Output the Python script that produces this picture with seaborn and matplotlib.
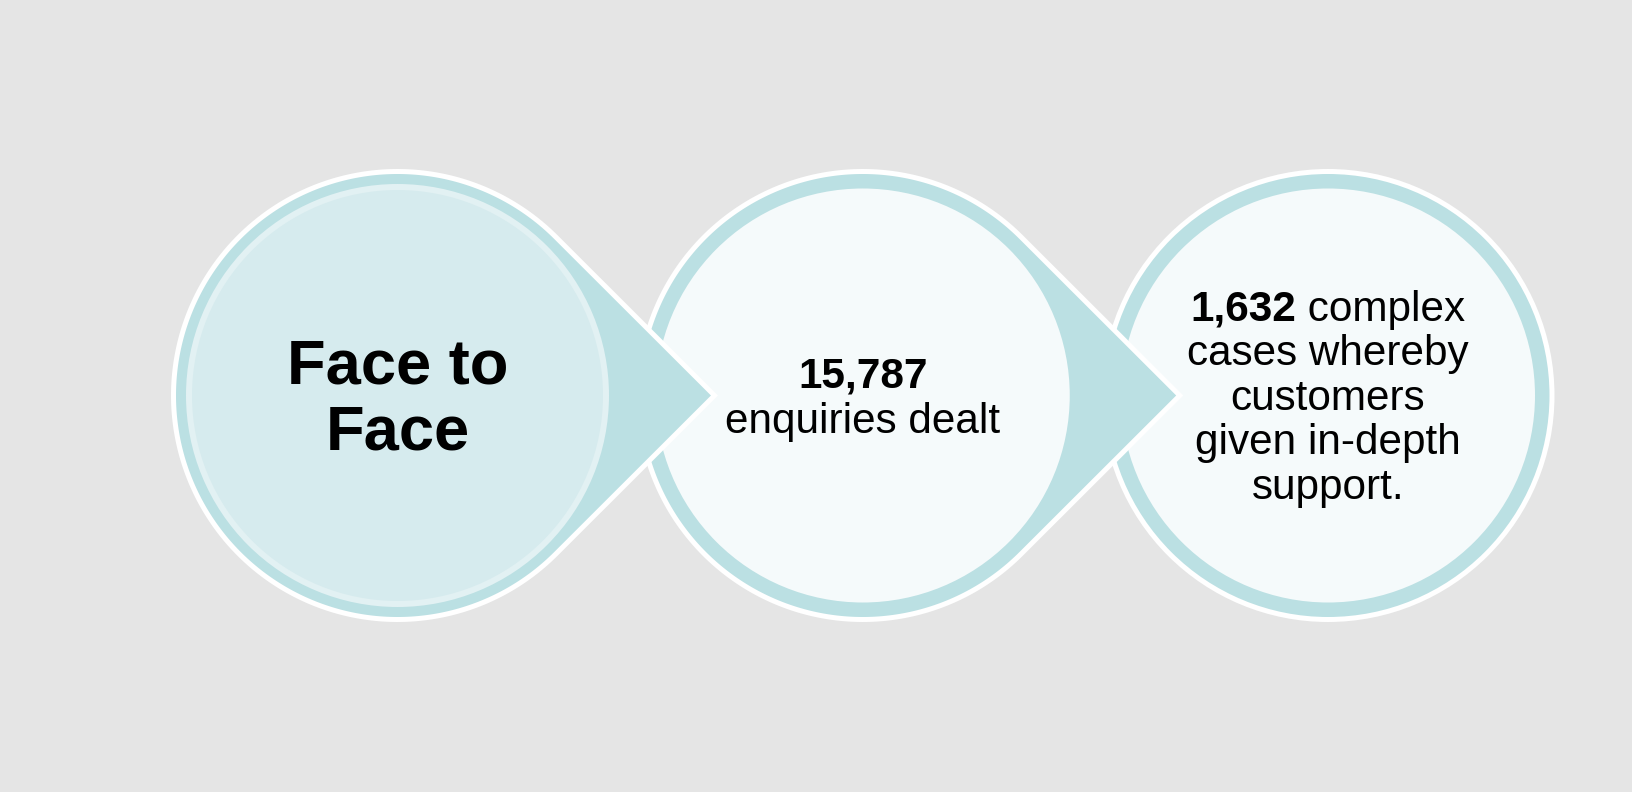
import numpy as np
import matplotlib
matplotlib.use("Agg")
import matplotlib.pyplot as plt
import seaborn as sns
from matplotlib.patches import Polygon, Circle

# ---- data ----
stage_title_lines = ["Face to", "Face"]
counts = [15787, 1632]
count_desc_lines = [
    ["enquiries dealt"],
    ["complex", "cases whereby", "customers", "given in-depth", "support."],
]
number_inline = [False, True]

# ---- style ----
sns.set_theme(style="white")
plt.rcParams["font.family"] = ["Liberation Sans", "DejaVu Sans"]
plt.rcParams["text.color"] = "black"

BG = "#e5e5e5"
TEAL = "#bbe0e3"
FILL1 = "#d6ebee"
RING1 = "#e2f1f3"
FILL2 = "#f5fafb"

W, H = 1632, 792
fig = plt.figure(figsize=(W / 100, H / 100), dpi=100, facecolor=BG)
ax = fig.add_axes([0, 0, 1, 1])
ax.set_xlim(0, W)
ax.set_ylim(H, 0)
ax.axis("off")
ax.set_facecolor(BG)

centers_x = [397.5, 862.75, 1328.0]
cy = 395.5
R_path = 224.0
tip_off = 317.0
lw_px = 5.0
lw_pt = lw_px * 72 / 100

def teardrop(cx, z):
    t = np.linspace(np.deg2rad(45), np.deg2rad(315), 300)
    pts = np.column_stack([cx + R_path * np.cos(t), cy + R_path * np.sin(t)])
    pts = np.vstack([pts, [cx + tip_off, cy]])
    poly = Polygon(pts, closed=True, facecolor=TEAL, edgecolor="white",
                   linewidth=lw_pt, joinstyle="miter", zorder=z)
    ax.add_patch(poly)

# shapes drawn right-to-left so the left one sits on top
for i in [2, 1, 0]:
    cx = centers_x[i]
    z = 10 * (3 - i)
    if i < 2:
        teardrop(cx, z)
    else:
        ax.add_patch(Circle((cx, cy), R_path, facecolor=TEAL, edgecolor="white",
                            linewidth=lw_pt, zorder=z))
    if i == 0:
        ax.add_patch(Circle((cx, cy), 211.5, facecolor=RING1, edgecolor="none", zorder=z + 1))
        ax.add_patch(Circle((cx, cy), 205.5, facecolor=FILL1, edgecolor="none", zorder=z + 2))
    else:
        ax.add_patch(Circle((cx, cy), 207.0, facecolor=FILL2, edgecolor="none", zorder=z + 1))

# ---- text ----
TZ = 100
title_fs = 45.5
title_base = [383.5, 450.0]
for line, yb in zip(stage_title_lines, title_base):
    ax.text(centers_x[0], yb, line, ha="center", va="baseline", fontsize=title_fs,
            fontweight="bold", color="black", zorder=TZ)

fs = 30.4
renderer = fig.canvas.get_renderer()

# circle 2
cx = centers_x[1]
ax.text(cx, 387.5, f"{counts[0]:,}", ha="center", va="baseline", fontsize=fs,
        fontweight="bold", color="black", zorder=TZ)
ax.text(cx, 433.5, count_desc_lines[0][0], ha="center", va="baseline", fontsize=fs,
        color="black", zorder=TZ)

# circle 3
cx = centers_x[2]
base3 = [320.5, 365.0, 409.5, 454.0, 498.5]
num_txt = ax.text(0, base3[0], f"{counts[1]:,}", ha="left", va="baseline", fontsize=fs,
                  fontweight="bold", color="black", zorder=TZ)
rest_txt = ax.text(0, base3[0], " " + count_desc_lines[1][0], ha="left", va="baseline",
                   fontsize=fs, color="black", zorder=TZ)
w1 = num_txt.get_window_extent(renderer).width
w2 = rest_txt.get_window_extent(renderer).width
x0 = cx - (w1 + w2) / 2
num_txt.set_x(x0)
rest_txt.set_x(x0 + w1)
for line, yb in zip(count_desc_lines[1][1:], base3[1:]):
    ax.text(cx, yb, line, ha="center", va="baseline", fontsize=fs, color="black", zorder=TZ)

fig.savefig("out.png", dpi=100, facecolor=BG)
